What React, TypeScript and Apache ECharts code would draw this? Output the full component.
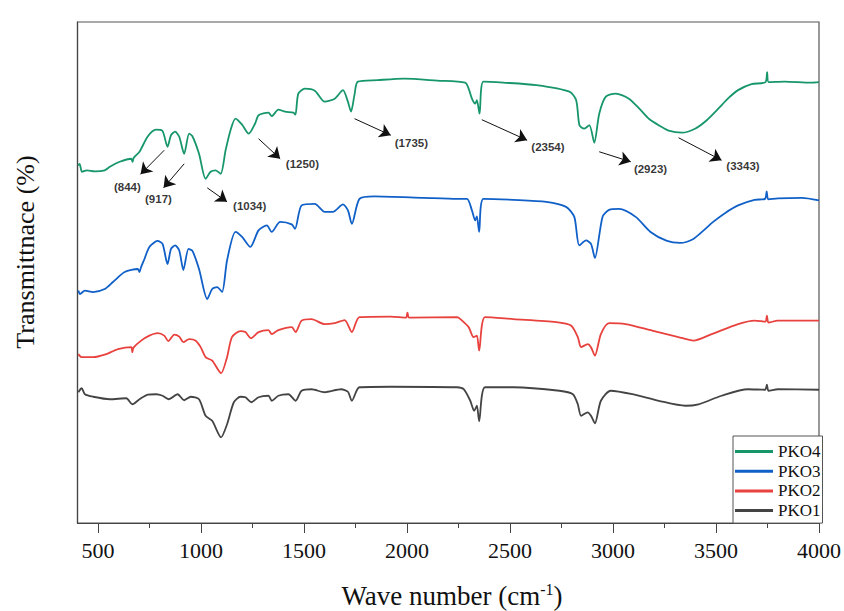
import React, { useEffect, useRef } from "react";
import * as echarts from "echarts";

// Wavenumber (cm-1), transmittance (arbitrary %, curves offset)
const PKO4: [number, number][] = [
  [402, 71.4], [410, 71.7], [422, 70.1], [446, 70.4], [484, 70.2], [532, 70.4], [557, 71.1], [605, 72.1],
  [661, 72.7], [667, 72.1], [673, 72.9], [701, 74.1], [740, 77.1], [781, 78.5], [812, 78.3], [837, 75.1],
  [854, 77.4], [874, 78.1], [894, 77.1], [918, 73.7], [942, 77.7], [958, 77.2], [990, 73.7], [1022, 68.7],
  [1046, 70.1], [1071, 70.4], [1095, 69.7], [1119, 74.4], [1143, 78.4], [1167, 80.7], [1199, 79.5],
  [1231, 77.7], [1263, 79.8], [1279, 81.4], [1327, 81.9], [1343, 81.2], [1375, 82.5], [1408, 82.1],
  [1448, 81.9], [1458, 81.5], [1472, 85.7], [1504, 86.7], [1552, 86.3], [1600, 84.1], [1649, 84.7],
  [1689, 86.4], [1712, 84.2], [1728, 82.1], [1745, 85.5], [1761, 88.1], [1857, 88.4], [1986, 88.7],
  [2146, 88.3], [2282, 87.9], [2299, 86.7], [2315, 84.7], [2331, 83.7], [2339, 84.4], [2352, 81.7],
  [2371, 88.1], [2467, 87.9], [2628, 87.4], [2788, 86.1], [2821, 84.4], [2837, 79.4], [2860, 78.7],
  [2885, 79.4], [2909, 75.9], [2933, 81.7], [2965, 85.1], [3013, 85.7], [3077, 84.7], [3130, 82.6],
  [3174, 80.7], [3230, 79.2], [3270, 78.3], [3334, 77.9], [3398, 78.7], [3455, 80.4], [3511, 82.7],
  [3560, 84.8], [3607, 86.4], [3672, 87.6], [3740, 88.0], [3748, 90.0], [3756, 88.0], [3832, 88.1],
  [3961, 87.9], [4000, 88.0],
];

const PKO3: [number, number][] = [
  [404, 46.4], [412, 45.7], [436, 46.4], [476, 46.1], [532, 46.7], [572, 48.1], [629, 50.1], [693, 50.7],
  [701, 50.1], [708, 51.0], [725, 52.7], [749, 55.1], [789, 56.3], [813, 55.7], [837, 51.7], [854, 54.7],
  [874, 55.4], [894, 54.4], [914, 50.5], [939, 54.7], [958, 54.3], [990, 50.7], [1030, 44.7], [1054, 46.7],
  [1078, 47.1], [1102, 46.1], [1126, 52.4], [1167, 58.1], [1199, 57.1], [1239, 55.1], [1279, 58.4],
  [1319, 59.4], [1343, 58.1], [1384, 60.1], [1440, 59.6], [1456, 58.7], [1488, 63.4], [1552, 63.7],
  [1600, 62.1], [1640, 62.1], [1689, 63.6], [1713, 62.4], [1732, 59.7], [1769, 64.7], [1841, 65.2],
  [2082, 64.9], [2243, 64.7], [2291, 64.7], [2315, 62.4], [2331, 60.4], [2339, 61.2], [2350, 58.1],
  [2371, 64.7], [2516, 64.5], [2676, 64.1], [2772, 63.1], [2812, 61.1], [2836, 55.4], [2869, 56.4],
  [2893, 55.7], [2912, 52.9], [2949, 61.1], [2981, 62.5], [3029, 62.7], [3110, 61.1], [3182, 58.1],
  [3262, 56.3], [3326, 55.9], [3390, 56.7], [3440, 58.4], [3486, 60.1], [3545, 61.9], [3607, 63.4],
  [3687, 64.5], [3738, 64.7], [3746, 66.2], [3754, 64.6], [3800, 64.8], [3917, 64.9], [4000, 64.4],
];

const PKO2: [number, number][] = [
  [404, 33.7], [420, 33.1], [476, 33.1], [532, 33.6], [597, 34.7], [661, 35.1], [666, 34.1], [672, 35.0],
  [709, 36.4], [749, 37.4], [789, 37.9], [821, 37.4], [841, 36.3], [870, 37.6], [894, 37.2], [914, 36.1],
  [942, 36.7], [974, 36.4], [998, 35.1], [1022, 33.1], [1054, 32.4], [1097, 29.9], [1126, 33.1],
  [1150, 37.1], [1191, 38.3], [1215, 38.1], [1242, 36.9], [1279, 38.1], [1327, 38.5], [1343, 37.7],
  [1375, 38.5], [1440, 39.1], [1459, 38.1], [1488, 40.4], [1536, 40.7], [1600, 39.7], [1649, 39.9],
  [1697, 40.5], [1732, 38.1], [1769, 41.1], [1921, 41.2], [1995, 41.0], [2002, 42.0], [2010, 41.0],
  [2243, 41.1], [2259, 40.7], [2299, 39.1], [2323, 37.1], [2339, 37.4], [2350, 34.4], [2379, 41.1],
  [2516, 40.7], [2724, 40.1], [2796, 39.4], [2829, 37.1], [2845, 35.1], [2877, 35.7], [2893, 35.1],
  [2912, 33.4], [2941, 37.7], [2981, 39.9], [3061, 39.7], [3190, 38.4], [3318, 37.1], [3390, 36.4],
  [3479, 37.7], [3607, 39.7], [3687, 40.4], [3740, 40.2], [3747, 41.4], [3755, 40.0], [3800, 40.4],
  [4000, 40.4],
];

const PKO1: [number, number][] = [
  [404, 26.1], [420, 26.9], [436, 25.7], [476, 25.2], [557, 24.7], [637, 24.9], [666, 23.7], [701, 24.7],
  [741, 25.6], [781, 25.7], [813, 25.4], [842, 24.7], [886, 25.7], [918, 24.5], [950, 25.2], [990, 24.7],
  [1022, 21.4], [1054, 20.4], [1097, 17.1], [1126, 19.7], [1159, 24.1], [1191, 25.2], [1215, 25.1],
  [1244, 24.1], [1279, 25.1], [1327, 25.4], [1343, 24.4], [1375, 25.4], [1424, 25.7], [1459, 24.4],
  [1488, 26.4], [1536, 26.7], [1600, 26.1], [1680, 26.7], [1713, 26.2], [1732, 24.4], [1769, 27.1],
  [1921, 27.2], [2243, 27.1], [2275, 26.7], [2307, 24.4], [2326, 22.4], [2339, 23.4], [2350, 20.3],
  [2379, 27.1], [2516, 27.1], [2740, 26.4], [2805, 25.7], [2829, 23.7], [2845, 21.4], [2877, 22.1],
  [2893, 21.4], [2912, 19.9], [2941, 24.4], [2989, 26.4], [3094, 25.7], [3222, 24.4], [3351, 23.4],
  [3415, 23.7], [3527, 25.4], [3655, 26.7], [3738, 26.6], [3747, 27.6], [3755, 26.4], [3800, 26.7],
  [4000, 26.6],
];

const MAJOR_TICKS = [500, 1000, 1500, 2000, 2500, 3000, 3500, 4000];
const MINOR_TICKS = [750, 1250, 1750, 2250, 2750, 3250, 3750];

// Peak annotations: label, arrow start [w, v], arrow end [w, v], label position [w, v]
const PEAK_LABELS = ["(844)", "(917)", "(1034)", "(1250)", "(1735)", "(2354)", "(2923)", "(3343)"];
const ARROW_FROM: [number, number][] = [
  [821, 74.4], [918, 71.7], [1030, 66.9], [1279, 76.7], [1745, 80.7], [2363, 80.5], [2933, 74.1], [3318, 76.9],
];
const ARROW_TO: [number, number][] = [
  [706, 69.6], [818, 66.9], [1126, 64.1], [1384, 72.7], [1921, 77.4], [2583, 76.4], [3086, 72.1], [3527, 72.4],
];
const LABEL_AT: [number, number][] = [
  [642, 67.1], [793, 64.7], [1236, 63.2], [1492, 71.6], [2021, 75.9], [2684, 75.1], [3182, 70.7], [3631, 71.2],
];

const SERIES = [
  { name: "PKO4", data: PKO4, color: "#17966a" },
  { name: "PKO3", data: PKO3, color: "#1060c8" },
  { name: "PKO2", data: PKO2, color: "#e8423e" },
  { name: "PKO1", data: PKO1, color: "#444444" },
];

const SERIF = "Liberation Serif";

export default function App() {
  const ref = useRef<HTMLDivElement>(null);

  useEffect(() => {
    if (!ref.current) return;
    const chart = echarts.init(ref.current, undefined, { renderer: "svg" });

    const lineSeries = SERIES.map((s, i) => ({
      name: s.name,
      type: "line",
      data: s.data,
      showSymbol: false,
      symbol: "none",
      smooth: 0.25,
      color: s.color,
      lineStyle: { color: s.color, width: 1.8 },
      z: 3,
      ...(i === 0
        ? {
            markLine: {
              silent: true,
              symbol: ["none", "arrow"],
              symbolSize: 11,
              label: { show: false },
              lineStyle: { color: "#111", width: 1, type: "solid" },
              emphasis: { disabled: true },
              data: ARROW_FROM.map((f, k) => [{ coord: f }, { coord: ARROW_TO[k] }]),
            },
          }
        : {}),
    }));

    chart.setOption({
      animation: false,
      textStyle: { fontFamily: SERIF },
      grid: {
        left: 77.5,
        right: 22,
        top: 22,
        bottom: 88,
        show: true,
        borderColor: "#555",
        borderWidth: 1.2,
      },
      legend: {
        data: SERIES.map((s) => ({ name: s.name, icon: "rect" })),
        orient: "vertical",
        left: 733,
        top: 436,
        padding: [7, 2, 4, 2],
        itemWidth: 38,
        itemHeight: 3,
        itemGap: 2.7,
        borderColor: "#555",
        borderWidth: 1,
        backgroundColor: "#fff",
        textStyle: { fontFamily: SERIF, fontSize: 17, color: "#111", lineHeight: 17 },
      },
      xAxis: [
        {
          type: "value",
          min: 400,
          max: 4000,
          axisLine: { show: true, lineStyle: { color: "#444", width: 1.2 } },
          axisTick: { show: true, customValues: MAJOR_TICKS, length: 10, lineStyle: { color: "#444", width: 1 } },
          axisLabel: {
            customValues: MAJOR_TICKS,
            formatter: (v: number) => String(v),
            fontFamily: SERIF,
            fontSize: 22,
            color: "#111",
            margin: 16,
          },
          splitLine: { show: false },
        },
        {
          type: "value",
          min: 400,
          max: 4000,
          position: "bottom",
          axisLine: { show: false },
          axisTick: { show: true, customValues: MINOR_TICKS, length: 5, lineStyle: { color: "#444", width: 1 } },
          axisLabel: { show: false },
          splitLine: { show: false },
        },
      ],
      yAxis: {
        type: "value",
        min: 0,
        max: 100,
        axisLine: { show: true, lineStyle: { color: "#444", width: 1.2 } },
        axisTick: { show: false },
        axisLabel: { show: false },
        splitLine: { show: false },
      },
      series: [
        ...lineSeries,
        {
          name: "peaks",
          type: "scatter",
          silent: true,
          symbolSize: 0,
          data: LABEL_AT.map((p, k) => ({ value: p, name: PEAK_LABELS[k] })),
          label: {
            show: true,
            position: "inside",
            formatter: (p: any) => p.name,
            fontFamily: "Liberation Sans",
            fontWeight: "bold",
            fontSize: 11.5,
            color: "#000",
          },
          z: 5,
        },
      ],
      graphic: [
        {
          type: "text",
          x: 25,
          y: 252,
          rotation: Math.PI / 2,
          style: {
            text: "Transmittnace (%)",
            fontFamily: SERIF,
            fontSize: 26,
            fill: "#111",
            align: "center",
            verticalAlign: "middle",
          },
        },
        {
          type: "text",
          x: 452,
          y: 596,
          style: {
            text: "{a|Wave number (cm}{s|-1}{a|)}",
            fill: "#111",
            align: "center",
            verticalAlign: "middle",
            rich: {
              a: { fontFamily: SERIF, fontSize: 27, lineHeight: 30, fill: "#111" },
              s: { fontFamily: SERIF, fontSize: 16, lineHeight: 30, verticalAlign: "top", fill: "#111" },
            },
          },
        },
      ],
    });

    return () => chart.dispose();
  }, []);

  return <div ref={ref} style={{ width: 844, height: 611, position: "absolute", left: 0, top: 0 }} />;
}
